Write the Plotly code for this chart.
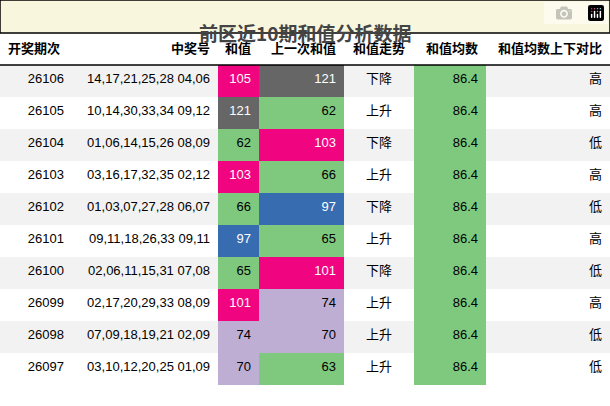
import plotly.graph_objects as go

periods = ["26106", "26105", "26104", "26103", "26102", "26101", "26100", "26099", "26098", "26097"]
numbers = ["14,17,21,25,28 04,06", "10,14,30,33,34 09,12", "01,06,14,15,26 08,09",
           "03,16,17,32,35 02,12", "01,03,07,27,28 06,07", "09,11,18,26,33 09,11",
           "02,06,11,15,31 07,08", "02,17,20,29,33 08,09", "07,09,18,19,21 02,09",
           "03,10,12,20,25 01,09"]
sums = [105, 121, 62, 103, 66, 97, 65, 101, 74, 70]
prev_sums = [121, 62, 103, 66, 97, 65, 101, 74, 70, 63]
trend = ["下降", "上升", "下降", "上升", "下降", "上升", "下降", "上升", "上升", "上升"]
avg = [86.4] * 10
compare = ["高", "高", "低", "高", "低", "高", "低", "高", "低", "低"]
headers = ["开奖期次", "中奖号", "和值", "上一次和值", "和值走势", "和值均数", "和值均数上下对比"]


def color_of(v):
    # 色块按数值区间划分
    if v >= 120:
        return "#666666"
    if v >= 100:
        return "#f0047f"
    if v >= 90:
        return "#386cb0"
    if v >= 70:
        return "#beaed4"
    return "#7fc97f"


def text_color(v):
    return "white" if v >= 90 else "black"


base = ["#f2f2f2" if i % 2 == 0 else "white" for i in range(10)]
fills = [base, base, [color_of(v) for v in sums], [color_of(v) for v in prev_sums],
         base, ["#7fc97f"] * 10, base]
fcolors = [["black"] * 10, ["black"] * 10, [text_color(v) for v in sums],
           [text_color(v) for v in prev_sums], ["black"] * 10, ["black"] * 10, ["black"] * 10]

top = 1 - 33 / 406
fig = go.Figure(go.Table(
    domain=dict(x=[0, 1], y=[0, top]),
    columnwidth=[72, 146, 41, 85, 70, 72, 124],
    header=dict(
        values=["<b>%s</b>" % h for h in headers],
        fill_color="white", line=dict(color="white", width=0),
        align=["left", "right", "right", "right", "center", "right", "right"],
        font=dict(family="Liberation Sans, Noto Sans CJK SC", size=13, color="black"),
        height=32,
    ),
    cells=dict(
        values=[periods, numbers, sums, prev_sums, trend, ["%.1f" % a for a in avg], compare],
        fill_color=fills, line=dict(color="white", width=0),
        align=["right", "right", "right", "right", "center", "right", "right"],
        font=dict(family="Liberation Sans, Noto Sans CJK SC", size=13, color=fcolors),
        height=32,
    ),
))

fig.add_shape(type="rect", xref="paper", yref="paper", x0=0, x1=1, y0=top, y1=1,
              fillcolor="#f8f6dc", line=dict(color="black", width=1.5))
fig.add_annotation(text="<b>前区近10期和值分析数据</b>", xref="paper", yref="paper",
                   x=0.5, y=1 - 16.5 / 406, showarrow=False,
                   font=dict(family="Noto Sans CJK SC", size=19, color="#444444"))
fig.add_shape(type="line", xref="paper", yref="paper", x0=0, x1=1,
              y0=1 - 65 / 406, y1=1 - 65 / 406, line=dict(color="black", width=1.5))

fig.update_layout(width=610, height=406, margin=dict(l=0, r=0, t=0, b=0),
                  paper_bgcolor="white")
# 去掉页面默认的 8px 边距
fig.write_html("out.html", post_script="document.body.style.margin='0';")
